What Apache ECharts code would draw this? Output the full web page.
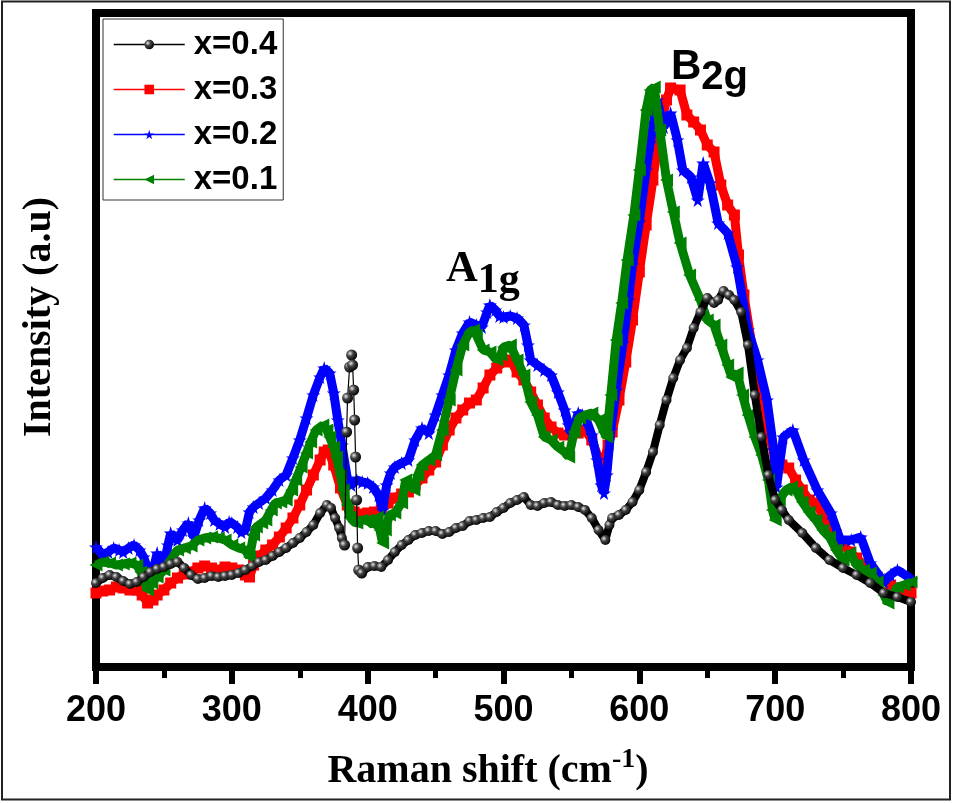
<!DOCTYPE html>
<html>
<head>
<meta charset="utf-8">
<script src="https://cdn.jsdelivr.net/npm/echarts@6/dist/echarts.min.js"></script>
<style>html,body{margin:0;padding:0;background:#fff}#c{width:953px;height:803px}</style>
</head>
<body>
<div id="c"></div>
<script>
// Raman shift (cm-1) and intensity (a.u.)
const blackX1 = [200,205,210,215,220,225,230,235,240,245,250,255,260,265,270,275,280,285,290,295,300,305,310,315,320,325,330,335,340,345,350,355,360,365,370,373,376,379,381,383];
const blackY1 = [77,82,85,83,79,76,78,83,88,91,93,96,98,92,85,81,82,84,83,84,85,87,90,94,98,100,104,108,112,117,122,128,135,147,155,152,142,132,122,115];
const spikeX = [383,384.5,385.2,386.7,388.2,388.9,389.7,390.4,391.1,391.9,392.6,393.4,395.6];
const spikeY = [115,228,262,293,305,295,270,240,203,160,112,90,87];
const blackX2 = [395.6,400,405,410,415,420,425,430,435,440,445,450,455,460,465,470,475,480,485,490,495,500,505,510,515,520,525,530,535,540,545,550,555,560,565,570,575,578,580,585,590,595,600,605,610,615,620,625,630,635,640,645,650,655,658,662,666,670,675,680,685,690,695,700,705,710,720,730,740,750,760,770,780,790,800];
const blackY2 = [87,93,94,93,100,108,115,120,125,127,129,129,126,128,132,134,139,140,142,143,148,152,157,160,163,155,154,157,158,155,154,155,153,150,142,130,120,135,142,145,150,158,170,188,208,235,260,282,300,312,332,348,362,357,360,369,365,360,348,315,265,223,185,160,150,140,127,112,100,92,85,77,67,63,58];

const redX = [200,205,210,215,220,225,230,234,238,242,245,250,255,260,265,270,275,280,285,290,295,300,305,310,313,316,320,325,330,335,340,345,350,355,360,365,368,371,375,380,385,390,395,400,405,410,415,420,425,430,435,440,445,450,455,460,465,470,475,480,485,490,495,500,505,510,515,520,525,530,535,540,545,550,555,560,565,570,574,577,580,585,590,595,600,605,610,615,620,623,630,635,640,645,650,655,660,665,670,673,677,684,690,695,700,705,710,715,720,725,730,735,740,745,750,755,760,765,770,775,780,785,790,795,800];
const redY = [67,69,70,73,72,70,70,65,57,60,65,70,77,82,86,88,92,94,92,90,93,92,90,85,83,95,104,110,115,123,132,142,155,170,185,200,208,210,195,172,155,148,146,147,148,150,157,162,166,168,175,182,190,198,215,230,242,250,257,260,272,285,292,298,300,288,280,268,255,242,233,227,225,227,227,230,220,202,198,215,228,260,298,340,388,435,480,530,560,572,570,545,538,530,515,508,475,455,445,405,365,305,265,230,200,195,192,180,170,160,157,145,132,125,115,108,102,95,88,83,80,75,72,70,67];

const blueX = [200,205,209,213,217,220,224,228,232,235,238,240,243,245,248,250,253,255,258,260,264,268,272,276,280,284,287,291,295,298,300,304,307,310,313,316,320,325,330,335,340,345,350,355,360,365,368,372,375,378,381,385,388,392,396,400,404,408,411,414,417,420,425,430,435,440,445,450,455,460,465,470,475,480,484,488,490,494,497,500,505,510,515,518,520,525,530,535,540,545,548,550,553,555,558,561,565,569,572,574,576,579,583,588,592,595,600,605,608,613,618,623,628,632,638,643,647,652,658,665,672,680,687,694,699,701,706,713,721,731,741,748,756,763,770,780,785,790,798,800];
const blueY = [113,105,108,112,110,108,112,115,110,103,92,85,95,107,100,95,115,127,122,120,130,137,123,140,152,147,140,136,133,138,137,133,128,130,148,153,157,162,170,180,185,202,220,242,265,283,292,287,267,240,215,182,175,180,178,177,173,165,150,175,187,193,197,200,220,232,227,245,265,285,310,327,338,335,333,348,355,350,344,343,344,342,335,315,300,295,290,285,268,250,235,227,238,247,245,240,225,200,175,167,185,230,270,317,360,395,438,490,517,560,533,547,520,490,483,460,497,477,437,427,393,330,300,260,210,173,223,230,200,170,147,120,120,123,97,78,85,90,83,80];

const greenX = [200,205,210,215,220,225,230,233,236,238,241,245,250,255,260,265,270,275,280,285,290,295,300,305,310,313,316,318,322,325,329,332,336,340,344,347,351,355,358,362,367,370,372,375,377,380,382,385,387,390,392,396,400,404,407,409,411,413,416,420,425,428,431,434,437,440,445,450,455,460,465,470,475,478,480,485,490,495,498,500,505,510,515,520,525,530,535,540,545,548,552,556,560,565,570,574,576,579,583,587,591,596,600,605,608,611,615,620,625,630,637,645,650,655,660,665,668,672,676,680,685,690,695,698,700,703,708,712,716,720,725,730,735,740,745,750,755,760,765,770,775,780,783,787,790,795,800];
const greenY = [95,98,97,95,96,97,95,88,77,70,77,83,90,100,110,112,114,120,122,123,122,120,115,112,110,103,125,133,137,140,150,157,158,160,170,180,193,207,218,230,235,230,223,213,203,185,170,155,143,138,137,140,140,135,143,130,117,130,145,147,157,180,175,170,185,195,200,205,230,260,290,315,328,330,325,310,308,300,305,313,315,300,285,258,245,223,220,213,208,203,228,242,245,247,240,228,223,265,320,357,400,445,490,550,570,573,530,480,448,417,385,360,340,335,315,295,283,287,265,245,223,205,180,150,140,160,170,173,168,158,148,140,130,123,110,100,107,95,90,87,78,65,57,65,73,75,78];

const seriesNames = ['x=0.4','x=0.3','x=0.2','x=0.1'];
const xTicks = [200,300,400,500,600,700,800];

const pairs = (xs, ys) => xs.map((x, i) => [x, ys[i]]);
const ball = {type:'radial', x:0.35, y:0.35, r:0.7, colorStops:[{offset:0,color:'#e8e8e8'},{offset:0.4,color:'#444'},{offset:1,color:'#000'}]};
const star = 'path://M50,0 L61,35 L98,35 L68,57 L79,91 L50,70 L21,91 L32,57 L2,35 L39,35 Z';

function band(name, data, color, symbol, size, z, extra) {
  return Object.assign({
    name, type:'line', data, z, symbol, symbolSize:size, showAllSymbol:true,
    lineStyle:{color, width:9}, itemStyle:{color, borderWidth:0}, emphasis:{disabled:true}
  }, extra || {});
}

const chart = echarts.init(document.getElementById('c'), null, {renderer:'canvas'});
chart.setOption({
  animation:false,
  backgroundColor:'#fff',
  grid:{left:96, right:42, top:13, bottom:136, show:true, borderColor:'#000', borderWidth:8, backgroundColor:'transparent'},
  xAxis:{type:'value', min:xTicks[0], max:xTicks[xTicks.length-1], interval:100,
    axisLine:{show:true, onZero:false, lineStyle:{color:'#000', width:8}},
    axisTick:{show:true, inside:false, length:17, lineStyle:{color:'#000', width:6}},
    minorTick:{show:true, splitNumber:2, length:11, lineStyle:{color:'#000', width:5}},
    splitLine:{show:false}, minorSplitLine:{show:false},
    axisLabel:{color:'#000', fontSize:36, fontWeight:'bold', fontFamily:'Liberation Sans, Arial', margin:26}
  },
  yAxis:{type:'value', min:-7, max:647, axisLine:{show:false}, axisTick:{show:false}, axisLabel:{show:false}, splitLine:{show:false}},
  legend:{data:seriesNames, orient:'vertical', left:103, top:19, padding:[9,6,4,10], itemGap:12,
    itemWidth:71, itemHeight:12, borderColor:'#333', borderWidth:1, backgroundColor:'#fff',
    lineStyle:{width:1.5}, selectedMode:false,
    textStyle:{fontSize:33, fontWeight:'bold', fontFamily:'Liberation Sans, Arial', color:'#000', lineHeight:30, padding:[0,0,0,4]}
  },
  series:[
    band('x=0.4', pairs(blackX1, blackY1), '#000', 'circle', 10, 5, {itemStyle:{color:ball}, lineStyle:{color:'#000', width:8}}),
    band('x=0.3', pairs(redX, redY), '#ff0000', 'rect', 11, 2),
    band('x=0.2', pairs(blueX, blueY), '#0000ff', star, 14, 3),
    band('x=0.1', pairs(greenX, greenY), '#008000', 'triangle', 13, 4, {symbolRotate:90}),
    band('x=0.4', pairs(spikeX, spikeY), '#000', 'circle', 11, 5, {itemStyle:{color:ball}, lineStyle:{color:'#000', width:1.2}}),
    band('x=0.4', pairs(blackX2, blackY2), '#000', 'circle', 10, 5, {itemStyle:{color:ball}, lineStyle:{color:'#000', width:8}})
  ],
  graphic:[
    {type:'rect', shape:{x:2, y:1.5, width:948, height:798}, style:{fill:'none', stroke:'#222', lineWidth:2}, z:100},
    {type:'text', x:488, y:772, z:100, style:{text:'{a|Raman shift (cm}{s|-1}{a|)}', align:'center', verticalAlign:'middle',
      rich:{a:{font:'bold 40px "Liberation Serif", "Times New Roman", serif', fill:'#000'}, s:{font:'bold 28px "Liberation Serif", serif', fill:'#000', padding:[0,0,24,0]}}}},
    {type:'text', x:40, y:317, rotation:Math.PI/2, z:100, style:{text:'Intensity (a.u)', align:'center', verticalAlign:'middle', font:'bold 40px "Liberation Serif", "Times New Roman", serif', fill:'#000'}},
    {type:'text', x:446, y:302, z:100, style:{text:'{a|A}{s|1g}', align:'left', verticalAlign:'bottom',
      rich:{a:{font:'bold 44px "Liberation Serif", serif', fill:'#000'}, s:{font:'bold 42px "Liberation Serif", serif', fill:'#000', padding:[22,0,0,0]}}}},
    {type:'text', x:671, y:98, z:100, style:{text:'{a|B}{s|2g}', align:'left', verticalAlign:'bottom',
      rich:{a:{font:'bold 42px "Liberation Sans", Arial, sans-serif', fill:'#000'}, s:{font:'bold 40px "Liberation Sans", Arial, sans-serif', fill:'#000', padding:[22,0,0,0]}}}}
  ]
});
</script>
</body>
</html>
